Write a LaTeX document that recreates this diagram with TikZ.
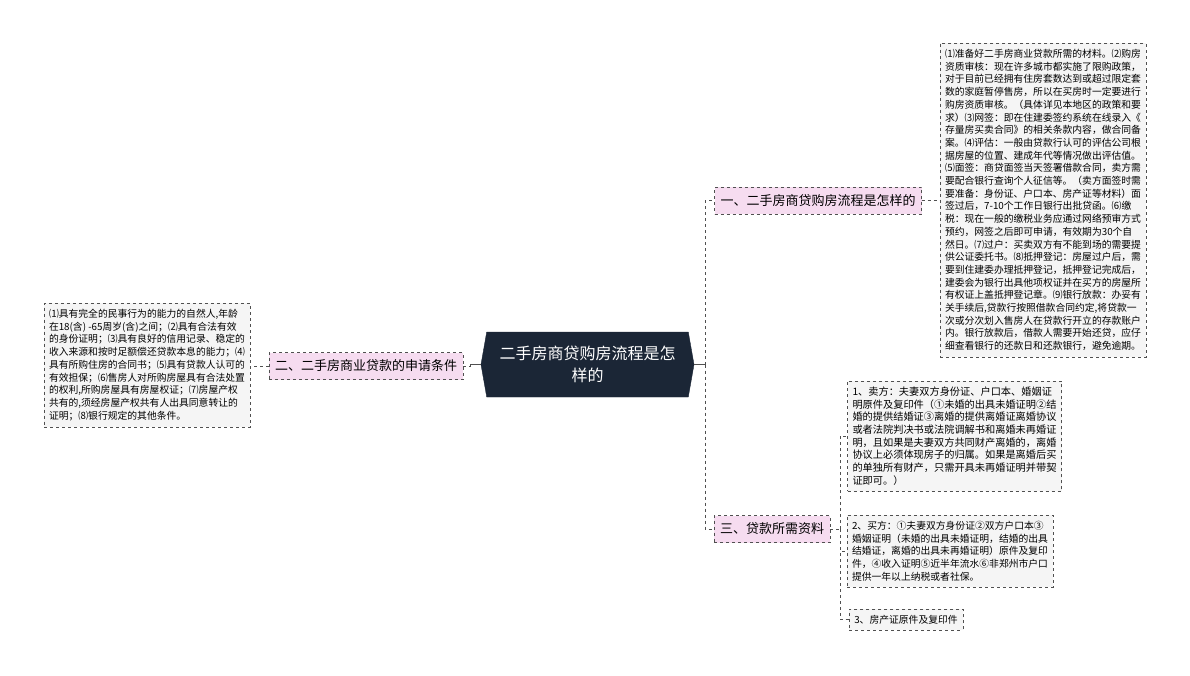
\documentclass[tikz,border=0pt]{standalone}
\usepackage{fontspec}
\setmainfont{Noto Sans CJK SC}
\usetikzlibrary{shapes.symbols,positioning}
\definecolor{mapnavy}{RGB}{27,38,54}
\definecolor{mappink}{RGB}{246,220,240}
\definecolor{mapleaf}{RGB}{245,245,245}
\definecolor{mapline}{RGB}{80,80,80}
\tikzset{
  root/.style={signal, signal to=east and west, signal pointer angle=160,
               fill=mapnavy, draw=mapnavy, text=white, align=center,
               font=\fontsize{16}{22}\selectfont, minimum width=213pt, minimum height=65pt},
  branch/.style={draw=mapline, dashed, fill=mappink, inner xsep=6pt,
                 font=\fontsize{13}{15}\selectfont, minimum height=27pt},
  leaf/.style={draw=mapline, dashed, fill=mapleaf, align=left, inner xsep=5pt, inner ysep=6pt,
               font=\fontsize{9.8}{12.7}\selectfont},
  link/.style={mapline, dashed},
  stub/.style={mapline, thick},
}

\begin{document}
\begin{tikzpicture}[x=1pt,y=-1pt]
  \fill[white] (0,0) rectangle (1190,675);
  \useasboundingbox (0,0) rectangle (1190,675);

  \node[root] (root) at (587.5,364.5) {二手房商贷购房流程是怎\\样的};

  \node[branch] (b1) at (818,200.5) {一、二手房商贷购房流程是怎样的};
  \node[branch] (b2) at (366,366) {二、二手房商业贷款的申请条件};
  \node[branch] (b3) at (772,529) {三、贷款所需资料};

  \node[leaf] (l1) at (1043,200) {%
⑴准备好二手房商业贷款所需的材料。⑵购房\\
资质审核：现在许多城市都实施了限购政策，\\
对于目前已经拥有住房套数达到或超过限定套\\
数的家庭暂停售房，所以在买房时一定要进行\\
购房资质审核。（具体详见本地区的政策和要\\
求）⑶网签：即在住建委签约系统在线录入《\\
存量房买卖合同》的相关条款内容，做合同备\\
案。⑷评估：一般由贷款行认可的评估公司根\\
据房屋的位置、建成年代等情况做出评估值。\\
⑸面签：商贷面签当天签署借款合同，卖方需\\
要配合银行查询个人征信等。（卖方面签时需\\
要准备：身份证、户口本、房产证等材料）面\\
签过后，7-10个工作日银行出批贷函。⑹缴\\
税：现在一般的缴税业务应通过网络预审方式\\
预约，网签之后即可申请，有效期为30个自\\
然日。⑺过户：买卖双方有不能到场的需要提\\
供公证委托书。⑻抵押登记：房屋过户后，需\\
要到住建委办理抵押登记，抵押登记完成后，\\
建委会为银行出具他项权证并在买方的房屋所\\
有权证上盖抵押登记章。⑼银行放款：办妥有\\
关手续后,贷款行按照借款合同约定,将贷款一\\
次或分次划入售房人在贷款行开立的存款账户\\
内。银行放款后，借款人需要开始还贷，应仔\\
细查看银行的还款日和还款银行，避免逾期。};

  \node[leaf] (l2) at (147,365) {%
⑴具有完全的民事行为的能力的自然人,年龄\\
在18(含) -65周岁(含)之间；⑵具有合法有效\\
的身份证明；⑶具有良好的信用记录、稳定的\\
收入来源和按时足额偿还贷款本息的能力；⑷\\
具有所购住房的合同书；⑸具有贷款人认可的\\
有效担保；⑹售房人对所购房屋具有合法处置\\
的权利,所购房屋具有房屋权证；⑺房屋产权\\
共有的,须经房屋产权共有人出具同意转让的\\
证明；⑻银行规定的其他条件。};

  \node[leaf, font=\fontsize{10.2}{12.7}\selectfont] (l3a) at (954.5,436) {%
1、卖方：夫妻双方身份证、户口本、婚姻证\\
明原件及复印件（①未婚的出具未婚证明②结\\
婚的提供结婚证③离婚的提供离婚证离婚协议\\
或者法院判决书或法院调解书和离婚未再婚证\\
明，且如果是夫妻双方共同财产离婚的，离婚\\
协议上必须体现房子的归属。如果是离婚后买\\
的单独所有财产，只需开具未再婚证明并带契\\
证即可。）};

  \node[leaf] (l3b) at (950,551) {%
2、买方：①夫妻双方身份证②双方户口本③\\
婚姻证明（未婚的出具未婚证明，结婚的出具\\
结婚证，离婚的出具未再婚证明）原件及复印\\
件，④收入证明⑤近半年流水⑥非郑州市户口\\
提供一年以上纳税或者社保。};

  \node[leaf] (l3c) at (906,619.5) {3、房产证原件及复印件};

  % connectors
  \coordinate (rj) at (705,364.5);
  \coordinate (lj) at (470,364.5);
  \coordinate (bj) at (840,529);
  \draw[stub] (root.east) -- (rj);
  \draw[link] (rj) |- (b1.west);
  \draw[link] (rj) |- (b3.west);
  \draw[stub] (root.west) -- (lj);
  \draw[link] (lj) |- (b2.east);
  \draw[link] (b1.east) -- (b1.east -| l1.west);
  \draw[link] (b2.west) -- (b2.west -| l2.east);
  \draw[link] (b3.east) -- (bj);
  \draw[link] (bj) |- (l3a.west);
  \draw[link] (bj) |- (l3b.west);
  \draw[link] (bj) |- (l3c.west);
\end{tikzpicture}
\end{document}
